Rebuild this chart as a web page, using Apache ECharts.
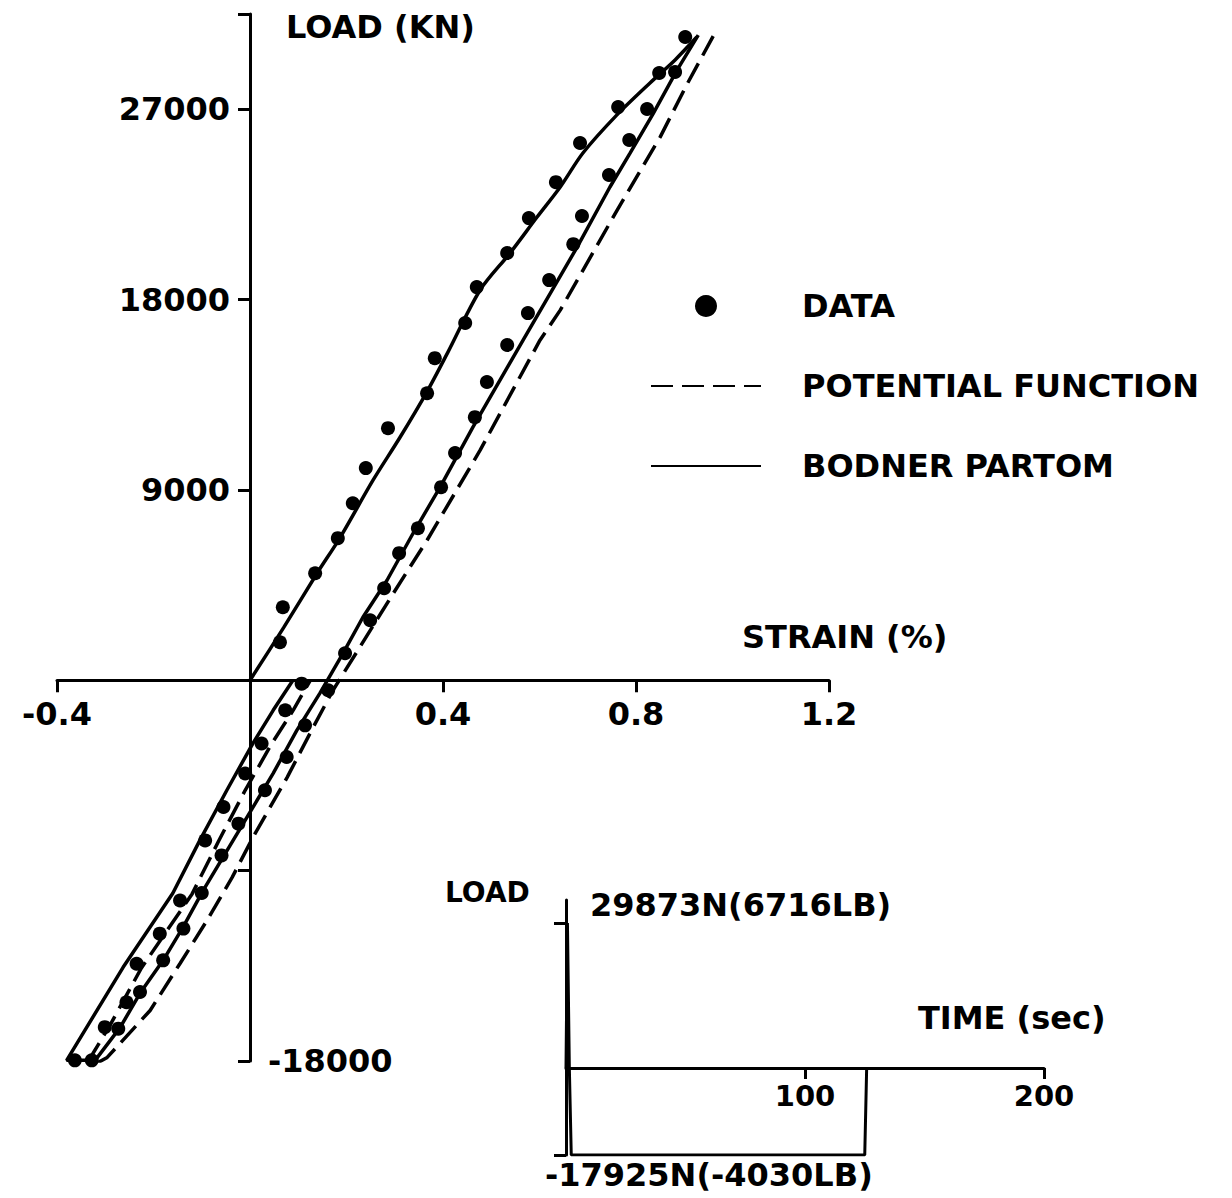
<!DOCTYPE html>
<html>
<head>
<meta charset="utf-8">
<script src="https://cdn.jsdelivr.net/npm/echarts@6/dist/echarts.min.js"></script>
<style>
html, body { margin: 0; padding: 0; background: #fff; }
#main { width: 1232px; height: 1198px; }
</style>
</head>
<body>
<div id="main"></div>
<script>
var FONT = 'DejaVu Sans';

// axis ticks / labels
var strainTicks = [-0.4, 0.4, 0.8, 1.2];
var loadTicks = [-18000, -9000, 0, 9000, 18000, 27000, 31500];
var loadLabels = [9000, 18000, 27000];
var timeTicks = [100, 200];
var historyTicks = [-17925, 29873];

// measured points [strain %, load]
var dataLoading = [[0.062, 1800], [0.068, 3450], [0.135, 5060], [0.182, 6720], [0.213, 8370],
  [0.240, 10030], [0.286, 11920], [0.367, 13570], [0.383, 15230], [0.446, 16890], [0.470, 18590],
  [0.533, 20200], [0.578, 21850], [0.634, 23550], [0.684, 25400], [0.763, 27100], [0.848, 28710],
  [0.902, 30410]];
var dataUnloading = [[0.881, 28760], [0.823, 27010], [0.786, 25540], [0.744, 23890], [0.688, 21950],
  [0.670, 20620], [0.620, 18920], [0.576, 17360], [0.533, 15850], [0.491, 14100], [0.466, 12440],
  [0.425, 10740], [0.396, 9130], [0.348, 7190], [0.309, 6010], [0.278, 4350], [0.249, 2840],
  [0.197, 1280], [0.162, -470], [0.114, -2130], [0.076, -3630], [0.031, -5200], [-0.024, -6780],
  [-0.059, -8280], [-0.100, -10060], [-0.138, -11740], [-0.180, -13240], [-0.228, -14740],
  [-0.273, -16470], [-0.328, -17970]];
var dataReloading = [[-0.363, -17970], [-0.301, -16400], [-0.256, -15220], [-0.235, -13400],
  [-0.187, -11980], [-0.145, -10410], [-0.093, -7570], [-0.055, -5990], [-0.010, -4410],
  [0.024, -2990], [0.073, -1420], [0.107, -160]];

// Bodner Partom model
var bpLoading = [[0, 0], [0.07, 2500], [0.139, 5060], [0.187, 6760], [0.255, 9460], [0.311, 11490],
  [0.367, 13650], [0.41, 15500], [0.477, 18450], [0.539, 20200], [0.595, 21900], [0.643, 23320],
  [0.690, 24930], [0.760, 26720], [0.829, 28240], [0.881, 29330], [0.926, 30410]];
var bpUnloading = [[0.929, 30500], [0.885, 28850], [0.835, 26770], [0.788, 24930], [0.746, 23320],
  [0.678, 20480], [0.566, 16080], [0.462, 11970], [0.394, 9130], [0.338, 6950], [0.284, 4730],
  [0.234, 2980], [0.193, 1280], [0.145, -610], [0.097, -2370], [0.048, -4400], [0.006, -6010],
  [-0.035, -7570], [-0.097, -9930], [-0.139, -11680], [-0.180, -13240], [-0.228, -14800],
  [-0.269, -16410], [-0.321, -17970]];
var bpReloading = [[-0.380, -17970], [-0.263, -13570], [-0.160, -10070], [-0.104, -7570],
  [-0.048, -5200], [0.006, -2980], [0.048, -1420], [0.089, 0]];

// potential function model
var pfUnloading = [[0.96, 30450], [0.906, 28190], [0.850, 25680], [0.761, 22230], [0.643, 17500],
  [0.601, 16080], [0.477, 10880], [0.367, 6620], [0.305, 4400], [0.172, -470], [0.131, -2220],
  [0.077, -4590], [0.006, -7430], [-0.037, -9320], [-0.089, -11350], [-0.145, -13390],
  [-0.207, -15610], [-0.296, -17830], [-0.317, -18100]];
var pfReloading = [[-0.335, -18000], [-0.29, -16300], [-0.225, -13600], [-0.12, -10100],
  [-0.065, -7600], [-0.01, -5200], [0.045, -3000], [0.09, -1400], [0.125, 0]];

// load history inset [time sec, load N]
var loadHistory = [[0, 0], [0.6, 29873], [1.4, 0], [2.2, -17925], [125, -17925], [125.8, 0]];

var W = 1232, H = 1198;
var mainGrid = { left: 57, right: 403, top: 14, bottom: 137 };
var histGrid = { left: 566, right: 188, top: 900, bottom: 43 };
var strainRange = [-0.4, 1.2], loadRange = [-18000, 31500];
var timeRange = [0, 200], histRange = [-17925, 34600];

// move the axis lines to the zero of the other axis
function zeroOffset(size, range) {
    return -size * (0 - range[0]) / (range[1] - range[0]);
}
var mainW = W - mainGrid.left - mainGrid.right, mainH = H - mainGrid.top - mainGrid.bottom;
var histH = H - histGrid.top - histGrid.bottom;

var chartDom = document.getElementById('main');
var myChart = echarts.init(chartDom, null, { renderer: 'svg' });

var txt = { color: '#000', fontFamily: FONT, fontWeight: 'bold', fontSize: 32 };
var axisLine = { onZero: false, lineStyle: { color: '#000', width: 3 } };
var plain = function (v) { return String(v); };
var solid = { color: '#000', width: 3.5 };
var dashed = { color: '#000', width: 3.5, type: [22, 9] };

function modelLine(name, data, lineStyle, smooth) {
    return {
        name: name, type: 'line', xAxisIndex: 0, yAxisIndex: 0,
        symbol: 'none', z: 3, smooth: smooth || false,
        lineStyle: lineStyle,
        itemStyle: { color: '#000', opacity: 0 },
        data: data
    };
}

var option = {
    animation: false,
    backgroundColor: '#fff',
    legend: {
        data: ['DATA', 'POTENTIAL FUNCTION', 'BODNER PARTOM'],
        orient: 'vertical',
        left: 645,
        top: 285,
        itemWidth: 110,
        itemHeight: 22,
        itemGap: 48,
        selectedMode: false,
        textStyle: Object.assign({}, txt, { lineHeight: 32, padding: [0, 0, 0, 36] })
    },
    grid: [
        Object.assign({ outerBoundsMode: 'none', containLabel: false }, mainGrid),
        Object.assign({ outerBoundsMode: 'none', containLabel: false }, histGrid)
    ],
    xAxis: [
        {
            type: 'value', gridIndex: 0, min: strainRange[0], max: strainRange[1], interval: 0.4,
            position: 'bottom', offset: zeroOffset(mainH, loadRange),
            axisLine: axisLine,
            splitLine: { show: false },
            axisTick: { length: 12, customValues: strainTicks, lineStyle: { color: '#000', width: 3 } },
            axisLabel: Object.assign({}, txt, {
                customValues: strainTicks, margin: 18,
                formatter: function (v) { return v.toFixed(1); }
            })
        },
        {
            type: 'value', gridIndex: 1, min: timeRange[0], max: timeRange[1], interval: 100,
            position: 'bottom', offset: zeroOffset(histH, histRange),
            axisLine: axisLine,
            splitLine: { show: false },
            axisTick: { length: 11, customValues: timeTicks, lineStyle: { color: '#000', width: 3 } },
            axisLabel: Object.assign({}, txt, { fontSize: 29, customValues: timeTicks, margin: 14, formatter: plain })
        }
    ],
    yAxis: [
        {
            type: 'value', gridIndex: 0, min: loadRange[0], max: loadRange[1], interval: 9000,
            position: 'left', offset: zeroOffset(mainW, strainRange),
            axisLine: axisLine,
            splitLine: { show: false },
            axisTick: { length: 12, customValues: loadTicks, lineStyle: { color: '#000', width: 3 } },
            axisLabel: Object.assign({}, txt, { customValues: loadLabels, margin: 20, formatter: plain })
        },
        {
            type: 'value', gridIndex: 1, min: histRange[0], max: histRange[1],
            position: 'left', offset: 0,
            axisLine: axisLine,
            splitLine: { show: false },
            axisTick: { length: 12, customValues: historyTicks, lineStyle: { color: '#000', width: 3 } },
            axisLabel: { show: false }
        }
    ],
    series: [
        {
            name: 'DATA', type: 'scatter', xAxisIndex: 0, yAxisIndex: 0,
            symbol: 'circle', symbolSize: 14, z: 4,
            itemStyle: { color: '#000', opacity: 1 },
            data: dataLoading.concat(dataUnloading, dataReloading)
        },
        modelLine('POTENTIAL FUNCTION', pfUnloading.concat(pfReloading), dashed),
        modelLine('BODNER PARTOM', bpLoading, solid, 0.3),
        modelLine('BODNER PARTOM', bpUnloading.concat(bpReloading), solid),
        {
            name: 'LOAD HISTORY', type: 'line', xAxisIndex: 1, yAxisIndex: 1,
            symbol: 'none',
            lineStyle: { color: '#000', width: 3 },
            data: loadHistory
        }
    ]
};

option && myChart.setOption(option);

// text placed next to the axes
var pMin = myChart.convertToPixel({ gridIndex: 0 }, [0, -18000]);
var hTop = myChart.convertToPixel({ gridIndex: 1 }, [0, 29873]);
var hBot = myChart.convertToPixel({ gridIndex: 1 }, [0, -17925]);
var hEnd = myChart.convertToPixel({ gridIndex: 1 }, [200, 0]);

function label(text, x, y, size) {
    return {
        type: 'text', x: x, y: y,
        style: {
            text: text, fill: '#000', font: 'bold ' + (size || 32) + 'px "' + FONT + '"',
            verticalAlign: 'middle', align: 'left'
        }
    };
}

myChart.setOption({
    graphic: [
        label('LOAD (KN)', 286, 27),
        label('STRAIN (%)', 742, 637),
        label('-18000', pMin[0] + 18, pMin[1]),
        label('LOAD', hTop[0] - 121, hTop[1] - 30, 28),
        label('29873N(6716LB)', hTop[0] + 24, hTop[1] - 18),
        label('-17925N(-4030LB)', hBot[0] - 21, hBot[1] + 20),
        label('TIME (sec)', hEnd[0] - 126, hEnd[1] - 50)
    ]
});
</script>
</body>
</html>
